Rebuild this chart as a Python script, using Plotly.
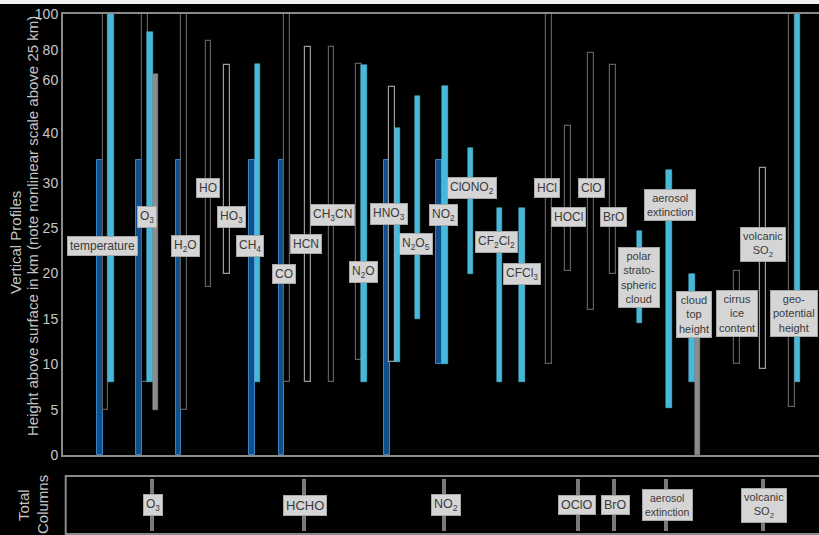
import numpy as np
import plotly.graph_objects as go

FONT = "Liberation Sans, Arial, sans-serif"

# ---- height axis: linear up to 30 km, compressed above ----
KM_TICKS = [0, 5, 10, 15, 20, 25, 30, 40, 60, 80, 100]
TICK_TEXT = ["0", "5", "10", "15", "20", "25", "30", "40", "60", "80", "100"]
SCALE_AT_TICKS = [0, 5, 10, 15, 20, 25, 30, 35.5, 41.3, 44.6, 48.6]


def h(km):
    return np.interp(km, KM_TICKS, SCALE_AT_TICKS)


# ---- species shown as vertical profiles ----
SPECIES = ["temperature", "O3", "H2O", "HO", "HO3", "CH4", "CO", "HCN", "CH3CN",
           "N2O", "HNO3", "N2O5", "NO2", "ClONO2", "CF2Cl2", "CFCl3", "HCl",
           "HOCl", "ClO", "BrO", "PSC", "aerosol", "cloudtop", "cirrus",
           "volcSO2", "geopot"]

LABELS = ["temperature", "O<sub>3</sub>", "H<sub>2</sub>O", "HO", "HO<sub>3</sub>",
          "CH<sub>4</sub>", "CO", "HCN", "CH<sub>3</sub>CN", "N<sub>2</sub>O",
          "HNO<sub>3</sub>", "N<sub>2</sub>O<sub>5</sub>", "NO<sub>2</sub>",
          "ClONO<sub>2</sub>", "CF<sub>2</sub>Cl<sub>2</sub>", "CFCl<sub>3</sub>",
          "HCl", "HOCl", "ClO", "BrO", "polar<br>strato-<br>spheric<br>cloud",
          "aerosol<br>extinction", "cloud<br>top<br>height", "cirrus<br>ice<br>content",
          "volcanic<br>SO<sub>2</sub>", "geo-<br>potential<br>height"]

# altitude ranges (km, bottom/top) for each kind of measurement
DARK_BLUE = {"temperature": (0, 34.5), "O3": (0, 34.5), "H2O": (0, 34.5),
             "CH4": (0, 34.5), "CO": (0, 34.5), "HNO3": (0, 34.5), "NO2": (10, 34.5)}

OPEN = {"temperature": (5, 100), "O3": (8, 100), "H2O": (5, 100), "HO": (18.5, 85),
        "CO": (8, 100), "CH3CN": (8, 82), "N2O": (10.5, 71), "HCl": (10, 100),
        "HOCl": (20.3, 42.5), "ClO": (16, 78), "BrO": (20, 70.5),
        "cirrus": (10, 20.3), "geopot": (5.3, 100)}

OPEN_LIGHT = {"HO3": (20, 70), "HCN": (8, 82), "HNO3": (10.3, 57.5),
              "volcSO2": (9.5, 33)}

CYAN = {"temperature": (8, 100), "O3": (8, 90), "CH4": (8, 71), "N2O": (8, 70.5),
        "HNO3": (10.3, 42), "N2O5": (15, 54), "NO2": (10, 58), "ClONO2": (20, 37),
        "CF2Cl2": (8, 27.2), "CFCl3": (8, 27.2), "PSC": (14.6, 24.7),
        "aerosol": (5.2, 32.6), "cloudtop": (8, 20), "geopot": (8, 100)}

GREY = {"O3": (5, 64), "cloudtop": (0, 14)}

# ---- total-column products ----
COLUMN_LABELS = ["O<sub>3</sub>", "HCHO", "NO<sub>2</sub>", "OClO", "BrO",
                 "aerosol<br>extinction", "volcanic<br>SO<sub>2</sub>"]

# ---- layout: group positions along x and label heights ----
GROUP_X = [37, 76.2, 115.3, 145.5, 164, 189, 218.5, 245, 268.5, 295.8, 323.7,
           354.5, 376.2, 407.5, 436.5, 459, 486, 505, 528, 550, 576.5, 605.7,
           629, 674, 700.3, 729]
LABEL_X = [39, 84, 122, 145, 168, 187, 221, 243, 269, 300, 326, 353, 380, 409,
           433, 459, 484, 505, 528, 550, 576, 607, 631, 674, 700, 731]
LABEL_KM = [23.0, 26.2, 23.0, 29.4, 26.2, 23.0, 20.0, 23.3, 26.4, 20.2, 26.6,
            23.3, 26.4, 29.4, 23.5, 19.9, 29.4, 26.2, 29.4, 26.2, 19.6, 27.6,
            15.5, 15.6, 23.2, 15.6]
COLUMN_BAR_X = [88.7, 241, 381.3, 514.7, 550.7, 602.7, 700]
COLUMN_LABEL_X = [90, 242, 383, 514, 552, 604, 701]
COLUMN_FONT = [12, 13, 12.5, 12.5, 12.5, 10.5, 11]

PITCH = 5.4
KIND_ORDER = [("dark", DARK_BLUE), ("open", OPEN), ("openl", OPEN_LIGHT),
              ("cyan", CYAN), ("grey", GREY)]


def bar_positions(table):
    xs, bases, lens = [], [], []
    kind = [k for k, t in KIND_ORDER if t is table][0]
    kind = "open" if kind == "openl" else kind
    for name, (lo, hi) in table.items():
        g = SPECIES.index(name)
        slots = []
        for k, t in KIND_ORDER:
            if name in t:
                kk = "open" if k == "openl" else k
                if kk not in slots:
                    slots.append(kk)
        xs.append(GROUP_X[g] + slots.index(kind) * PITCH)
        bases.append(float(h(lo)))
        lens.append(float(h(hi) - h(lo)))
    return xs, bases, lens


fig = go.Figure()

styles = [
    (DARK_BLUE, 5.6, "#0f4f8c", "#3d83c3", 1),
    (OPEN, 5.8, "#000000", "#5e5e5e", 1.2),
    (OPEN_LIGHT, 5.8, "#000000", "#9a9a9a", 1.2),
    (CYAN, 5.8, "#46b8d9", "#5cc3e0", 0.5),
    (GREY, 5.0, "#8c8c8c", "#8c8c8c", 0.5),
]
for table, w, fill, edge, lw in styles:
    xs, bases, lens = bar_positions(table)
    fig.add_trace(go.Bar(x=xs, y=lens, base=bases, width=w,
                         marker=dict(color=fill, line=dict(color=edge, width=lw)),
                         xaxis="x", yaxis="y", showlegend=False, hoverinfo="skip"))

# total column markers
fig.add_trace(go.Bar(x=COLUMN_BAR_X, y=[0.88] * len(COLUMN_BAR_X),
                     base=[0.06] * len(COLUMN_BAR_X), width=4,
                     marker=dict(color="#7a7a7a", line=dict(width=0)),
                     xaxis="x2", yaxis="y2", showlegend=False, hoverinfo="skip"))

box = dict(showarrow=False, bgcolor="#d5d5d5", bordercolor="#a8a8a8",
           borderwidth=1, borderpad=2, align="center")

annotations = []
for i, lab in enumerate(LABELS):
    multi = "<br>" in lab
    annotations.append(dict(x=LABEL_X[i], y=float(h(LABEL_KM[i])), xref="x", yref="y",
                            text=lab, font=dict(family=FONT, color="#3a3a3a",
                                                size=11 if multi else 12),
                            **box))
for i, lab in enumerate(COLUMN_LABELS):
    annotations.append(dict(x=COLUMN_LABEL_X[i], y=0.5, xref="x2", yref="y2",
                            text=lab, font=dict(family=FONT, color="#3a3a3a",
                                                size=COLUMN_FONT[i]),
                            **box))

W, H = 819, 535
ML, MT = 63, 14
PW, PH = W - ML, H - MT


def px_x(px):
    return (px - ML) / PW


def px_y(py):
    return (H - py) / PH


title_font = dict(family=FONT, color="#c4c4c4", size=15)
side_titles = [("Vertical Profiles", 15, 243),
               ("Height above surface in km (note nonlinear scale above 25 km)", 33, 226),
               ("Total", 23, 505), ("Columns", 42, 505)]
for txt, tx, ty in side_titles:
    annotations.append(dict(x=px_x(tx), y=px_y(ty), xref="paper", yref="paper",
                            text=txt, textangle=-90, showarrow=False,
                            xanchor="center", yanchor="middle", font=title_font))

shapes = [
    # light strip along the very top edge
    dict(type="rect", xref="paper", yref="paper", x0=px_x(0), x1=px_x(W),
         y0=px_y(4), y1=px_y(-2), fillcolor="#f2f2f2", line=dict(width=0), layer="above"),
    # frame of the total-column panel
    dict(type="rect", xref="paper", yref="paper", x0=px_x(65.7), x1=px_x(W + 5),
         y0=px_y(534), y1=px_y(476), line=dict(color="#8a8a8a", width=2),
         fillcolor="rgba(0,0,0,0)"),
]

fig.update_layout(
    width=W, height=H, margin=dict(l=ML, r=0, t=MT, b=0, autoexpand=False),
    paper_bgcolor="#000000", plot_bgcolor="#000000",
    barmode="overlay", bargap=0, showlegend=False,
    font=dict(family=FONT),
    xaxis=dict(domain=[0, 1], range=[0, PW], showgrid=False, zeroline=False,
               showticklabels=False, ticks="", showline=True, mirror=True,
               linecolor="#8a8a8a", linewidth=2, anchor="y", fixedrange=True),
    yaxis=dict(domain=[px_y(455), 1], range=[0, SCALE_AT_TICKS[-1]],
               tickvals=[float(v) for v in h(KM_TICKS)], ticktext=TICK_TEXT,
               tickfont=dict(family=FONT, color="#c8c8c8", size=14),
               showgrid=False, zeroline=False, ticks="", showline=True,
               linecolor="#8a8a8a", linewidth=2, anchor="x"),
    xaxis2=dict(domain=[0, 1], range=[0, PW], showgrid=False, zeroline=False,
                showticklabels=False, ticks="", showline=False, anchor="y2"),
    yaxis2=dict(domain=[px_y(534), px_y(476)], range=[0, 1], showgrid=False,
                zeroline=False, showticklabels=False, ticks="", showline=False,
                anchor="x2"),
    annotations=annotations, shapes=shapes,
)

fig.write_html("out.html")
